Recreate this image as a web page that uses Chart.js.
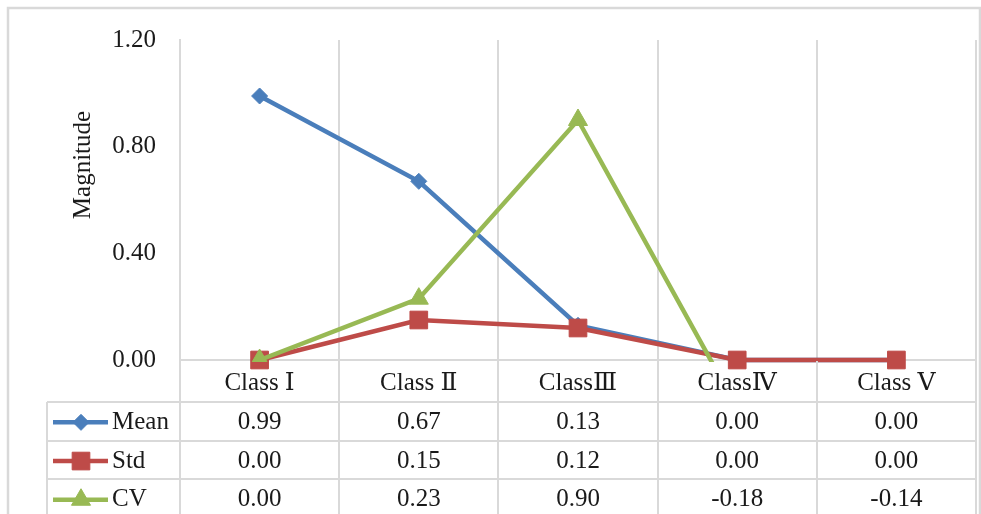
<!DOCTYPE html>
<html>
<head>
<meta charset="utf-8">
<script src="https://cdn.jsdelivr.net/npm/chart.js@4/dist/chart.umd.min.js"></script>
<style>
  html, body { margin: 0; padding: 0; background: #fff; }
  #wrap { width: 981px; height: 514px; position: relative; overflow: hidden; }
</style>
</head>
<body>
<div id="wrap"><canvas id="chart" width="981" height="514"></canvas></div>
<script>
// Category labels along the x axis
const categories = ['Class Ⅰ', 'Class Ⅱ', 'ClassⅢ', 'ClassⅣ', 'Class Ⅴ'];

// Series values per class
const meanValues = [0.99, 0.67, 0.13, 0.00, 0.00];
const stdValues  = [0.00, 0.15, 0.12, 0.00, 0.00];
const cvValues   = [0.00, 0.23, 0.90, -0.18, -0.14];

// Series names (also used as data-table row headers)
const seriesNames = ['Mean', 'Std', 'CV'];

// Y-axis ticks and title
const yTicks = [0.00, 0.40, 0.80, 1.20];
const yTitle = 'Magnitude';

const FONT_FAMILY = "'Liberation Serif', 'Times New Roman', 'DejaVu Serif', 'Noto Sans CJK SC', serif";
const FONT_SIZE = 25;
const GRID_COLOR = '#d9d9d9';
const TEXT_COLOR = '#1a1a1a';

// Per-series look; the CV series is cut at the bottom of the plot (negative values)
const seriesStyles = [
  { color: '#4a7ebb', pointStyle: 'rectRot',  radius: 8,    clip: false },
  { color: '#be4b48', pointStyle: 'rect',     radius: 12.5, clip: false },
  { color: '#98b954', pointStyle: 'triangle', radius: 11,   clip: { left: 20, right: 20, top: 20, bottom: 2 } }
];
const seriesValues = [meanValues, stdValues, cvValues];

const LABEL_ROW_H = 42;     // height of the category label row
const TABLE_ROW_H = 38.7;   // height of each data-table row
const TABLE_LEFT = 47;      // left edge of the data table (legend column)

function drawMarker(ctx, style, x, y) {
  ctx.save();
  ctx.fillStyle = style.color;
  ctx.strokeStyle = style.color;
  ctx.lineWidth = 1;
  if (Chart.helpers && Chart.helpers.drawPoint) {
    Chart.helpers.drawPoint(ctx, { pointStyle: style.pointStyle, radius: style.radius, rotation: 0, borderWidth: 1 }, x, y);
  }
  ctx.restore();
}

// Frame, y-axis title and data table drawn around the chart area
const tablePlugin = {
  id: 'dataTable',
  beforeDraw(chart) {
    const ctx = chart.ctx;
    ctx.save();
    ctx.fillStyle = '#fff';
    ctx.fillRect(0, 0, chart.width, chart.height);
    ctx.strokeStyle = GRID_COLOR;
    ctx.lineWidth = 2.5;
    ctx.strokeRect(8, 8, chart.width - 9, chart.height + 20);
    ctx.restore();
  },
  afterDraw(chart) {
    const ctx = chart.ctx;
    const area = chart.chartArea;
    const xs = chart.scales.x;
    const n = categories.length;
    const step = (area.right - area.left) / n;
    const tableTop = area.bottom + LABEL_ROW_H;
    const bottom = chart.height + 5;

    ctx.save();
    ctx.strokeStyle = GRID_COLOR;
    ctx.lineWidth = 2;

    // column separators continue through label row and table
    for (let i = 0; i <= n; i++) {
      const x = Math.round(area.left + i * step);
      ctx.beginPath();
      ctx.moveTo(x, area.bottom + 1);
      ctx.lineTo(x, bottom);
      ctx.stroke();
    }
    // legend column left edge
    ctx.beginPath();
    ctx.moveTo(TABLE_LEFT, tableTop);
    ctx.lineTo(TABLE_LEFT, bottom);
    ctx.stroke();
    // row separators
    for (let r = 0; r <= seriesNames.length; r++) {
      const y = Math.round(tableTop + r * TABLE_ROW_H);
      ctx.beginPath();
      ctx.moveTo(TABLE_LEFT, y);
      ctx.lineTo(area.right, y);
      ctx.stroke();
    }

    // row contents
    ctx.font = FONT_SIZE + 'px ' + FONT_FAMILY;
    ctx.fillStyle = TEXT_COLOR;
    ctx.textBaseline = 'middle';
    seriesNames.forEach((name, r) => {
      const yc = tableTop + (r + 0.5) * TABLE_ROW_H + 1;
      const st = seriesStyles[r];
      // legend key: line with marker
      ctx.save();
      ctx.strokeStyle = st.color;
      ctx.lineWidth = 4.5;
      ctx.beginPath();
      ctx.moveTo(TABLE_LEFT + 6, yc);
      ctx.lineTo(TABLE_LEFT + 61, yc);
      ctx.stroke();
      ctx.restore();
      drawMarker(ctx, st, TABLE_LEFT + 34, yc);
      ctx.textAlign = 'left';
      ctx.fillStyle = TEXT_COLOR;
      ctx.fillText(name, TABLE_LEFT + 65, yc);
      // values
      ctx.textAlign = 'center';
      seriesValues[r].forEach((v, i) => {
        ctx.fillText(v.toFixed(2), xs.getPixelForValue(i), yc);
      });
    });

    // y-axis title
    ctx.save();
    ctx.translate(83, (area.top + area.bottom) / 2 - 35);
    ctx.rotate(-Math.PI / 2);
    ctx.textAlign = 'center';
    ctx.textBaseline = 'middle';
    ctx.fillText(yTitle, 0, 0);
    ctx.restore();

    ctx.restore();
  }
};

const datasets = seriesNames.map((name, i) => ({
  label: name,
  data: seriesValues[i],
  borderColor: seriesStyles[i].color,
  backgroundColor: seriesStyles[i].color,
  pointBackgroundColor: seriesStyles[i].color,
  pointBorderColor: seriesStyles[i].color,
  pointBorderWidth: 1,
  pointStyle: seriesStyles[i].pointStyle,
  pointRadius: seriesStyles[i].radius,
  pointHoverRadius: seriesStyles[i].radius,
  borderWidth: 4.5,
  tension: 0,
  fill: false,
  clip: seriesStyles[i].clip,
  order: seriesNames.length - i
}));

new Chart(document.getElementById('chart'), {
  type: 'line',
  data: { labels: categories, datasets },
  plugins: [tablePlugin],
  options: {
    responsive: false,
    animation: false,
    events: [],
    layout: { autoPadding: false, padding: { left: 0, top: 40, right: 5, bottom: 112 } },
    plugins: {
      legend: { display: false },
      tooltip: { enabled: false },
      title: { display: false }
    },
    scales: {
      x: {
        type: 'category',
        offset: true,
        grid: { display: true, offset: true, color: GRID_COLOR, lineWidth: 2, drawTicks: false },
        border: { display: true, color: GRID_COLOR, width: 2 },
        ticks: {
          color: TEXT_COLOR,
          font: { family: FONT_FAMILY, size: FONT_SIZE },
          padding: 8,
          maxRotation: 0,
          autoSkip: false
        },
        afterFit(s) { s.height = LABEL_ROW_H; }
      },
      y: {
        min: 0,
        max: 1.2,
        grid: { display: false, drawTicks: false },
        border: { display: true, color: GRID_COLOR, width: 2 },
        ticks: {
          color: TEXT_COLOR,
          font: { family: FONT_FAMILY, size: FONT_SIZE },
          padding: 24,
          callback: (v) => Number(v).toFixed(2)
        },
        afterBuildTicks(s) { s.ticks = yTicks.map(v => ({ value: v })); },
        afterFit(s) { s.width = 180; }
      }
    }
  }
});
</script>
</body>
</html>
